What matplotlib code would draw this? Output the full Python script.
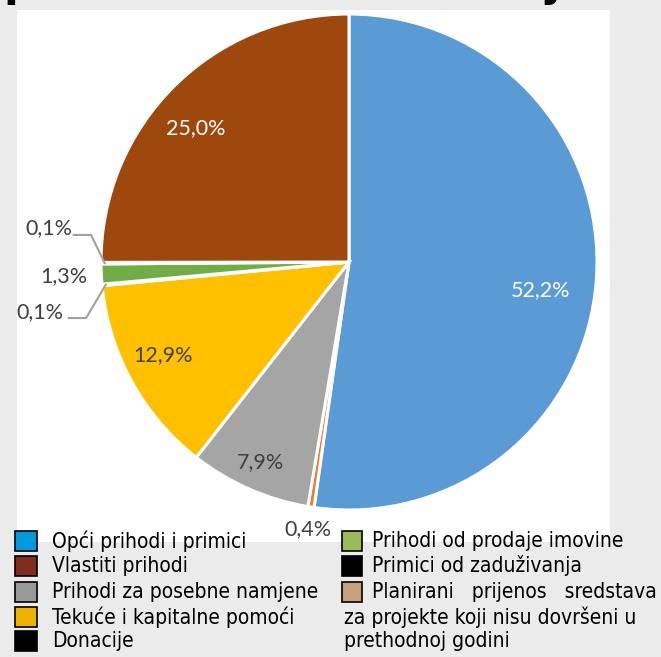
import numpy as np
import matplotlib.pyplot as plt
from matplotlib.patches import Rectangle

# slice data, clockwise from 12 o'clock
values = [52.2, 0.4, 7.9, 12.9, 0.1, 1.3, 0.1, 25.0]
labels = ['52,2%', '0,4%', '7,9%', '12,9%', '0,1%', '1,3%', '0,1%', '25,0%']
pie_colors = ['#5B9BD5', '#ED7D31', '#A5A5A5', '#FFC000', '#000000',
              '#70AD47', '#000000', '#9E480E']

# legend data
leg_left = ['Opći prihodi i primici', 'Vlastiti prihodi', 'Prihodi za posebne namjene',
            'Tekuće i kapitalne pomoći', 'Donacije']
leg_left_colors = ['#0099DD', '#7F2D1E', '#999999', '#F0B000', '#000000']
leg_right = ['Prihodi od prodaje imovine', 'Primici od zaduživanja',
             'Planirani   prijenos   sredstava\nza projekte koji nisu dovršeni u\nprethodnoj godini']
leg_right_colors = ['#9BBB59', '#000000', '#C8A07E']

W, H = 661, 657
fig = plt.figure(figsize=(W / 100, H / 100), dpi=100)
fig.patch.set_facecolor('#EBEBEB')

def fx(px):
    return px / W

def fy(py):
    return 1 - py / H

# white chart panel
fig.patches.append(Rectangle((fx(17), fy(542)), fx(610) - fx(17), fy(10) - fy(542),
                             transform=fig.transFigure, facecolor='white',
                             edgecolor='none', zorder=-5))

# partly visible title at the top
fig.text(fx(4), fy(-4), 'po izvorima financiranja', fontsize=31, fontweight='bold',
         color='black', ha='left', va='baseline', zorder=-4)

cx, cy, r = 349, 262, 248
ax = fig.add_axes([fx(cx - r), fy(cy + r), 2 * r / W, 2 * r / H])
ax.set_zorder(2)

wedges, _ = ax.pie(values, colors=pie_colors, startangle=90, counterclock=False,
                   radius=1, wedgeprops=dict(edgecolor='white', linewidth=2.2))
ax.set_xlim(-1, 1)
ax.set_ylim(-1, 1)
ax.axis('off')

lab_font = ['Lato', 'DejaVu Sans']
lab_size = 15.5
radii = [0.78, 1.09, 0.88, 0.84, None, 1.15, None, 0.82]
for i, w in enumerate(wedges):
    mid = np.deg2rad((w.theta1 + w.theta2) / 2)
    if radii[i] is None:
        continue
    col = 'white' if i in (0, 7) else '#404040'
    rr = radii[i]
    ang = mid
    if i == 0:
        ang = np.deg2rad(-8.3)
    if i == 3:
        ang = np.deg2rad(-153.4)
    if i == 7:
        ang = np.deg2rad(139)
    ax.text(rr * np.cos(ang), rr * np.sin(ang), labels[i], ha='center', va='center',
            fontsize=lab_size, color=col, family=lab_font, clip_on=False)

# 0,1% labels with leader lines
for i, (lx, ly, ex, ey) in zip([6, 4], [(-1.21, 0.137, -1.04, 0.109),
                                         (-1.245, -0.202, -1.06, -0.226)]):
    w = wedges[i]
    mid = np.deg2rad((w.theta1 + w.theta2) / 2)
    px, py = 0.985 * np.cos(mid), 0.985 * np.sin(mid)
    ax.plot([ex - 0.07, ex, px], [ey, ey, py], color='#A0A0A0', lw=1.5, clip_on=False)
    ax.text(lx, ly, labels[i], ha='center', va='center', fontsize=lab_size,
            color='#404040', family=lab_font, clip_on=False)

# legend drawn by hand
leg_kw = dict(fontsize=15, family=['DejaVu Sans'], fontstretch='condensed',
              color='black', ha='left', va='center')
rows = [541, 566, 592, 617, 641]
for name, col, yy in zip(leg_left, leg_left_colors, rows):
    fig.patches.append(Rectangle((fx(15), fy(yy + 10)), fx(22), 20 / H,
                                 transform=fig.transFigure, facecolor=col,
                                 edgecolor='black', lw=1.2))
    fig.text(fx(52), fy(yy), name, **leg_kw)
for name, col, yy in zip(leg_right, leg_right_colors, rows[:3]):
    fig.patches.append(Rectangle((fx(342), fy(yy + 10)), fx(20), 20 / H,
                                 transform=fig.transFigure, facecolor=col,
                                 edgecolor='black', lw=1.2))
    lines = name.split('\n')
    fig.text(fx(372), fy(yy), lines[0], **leg_kw)
    for k, ln in enumerate(lines[1:]):
        fig.text(fx(344), fy(rows[3 + k]), ln, **leg_kw)

plt.savefig('out.png', dpi=100)
